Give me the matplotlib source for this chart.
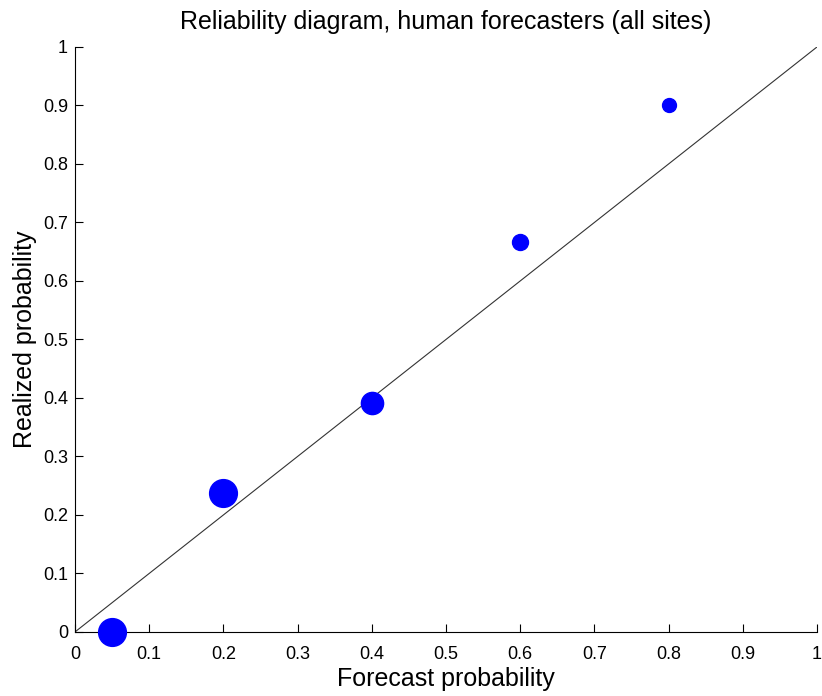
import matplotlib.pyplot as plt

plt.rcParams['font.family'] = ['Liberation Sans', 'DejaVu Sans']

forecast = [0.05, 0.2, 0.4, 0.6, 0.8]
realized = [0.0, 0.238, 0.392, 0.667, 0.9]
counts = [20, 20, 16, 11.5, 10]  # marker size ~ number of forecasts
ticks = [0, 0.1, 0.2, 0.3, 0.4, 0.5, 0.6, 0.7, 0.8, 0.9, 1]

fig = plt.figure(figsize=(8.22, 6.96), dpi=100)
ax = fig.add_axes([0.0912, 0.092, 0.9027, 0.8405])
ax.plot([0, 1], [0, 1], color='#333333', lw=0.8)
for f, r, s in zip(forecast, realized, counts):
    ax.plot(f, r, 'o', color='#0000ff', markersize=s, clip_on=False, zorder=3)
ax.set_xlim(0, 1)
ax.set_ylim(0, 1)
ax.set_xticks(ticks)
ax.set_yticks(ticks)
ax.set_xticklabels([f'{t:g}' for t in ticks])
ax.set_yticklabels([f'{t:g}' for t in ticks])
ax.tick_params(direction='in', labelsize=13, length=6, pad=5)
ax.tick_params(axis='x', pad=10)
ax.spines['top'].set_visible(False)
ax.spines['right'].set_visible(False)
ax.set_title('Reliability diagram, human forecasters (all sites)', fontsize=18, pad=13)
ax.set_xlabel('Forecast probability', fontsize=18, labelpad=3)
ax.set_ylabel('Realized probability', fontsize=18, labelpad=4)
fig.savefig('out.png', dpi=100)
